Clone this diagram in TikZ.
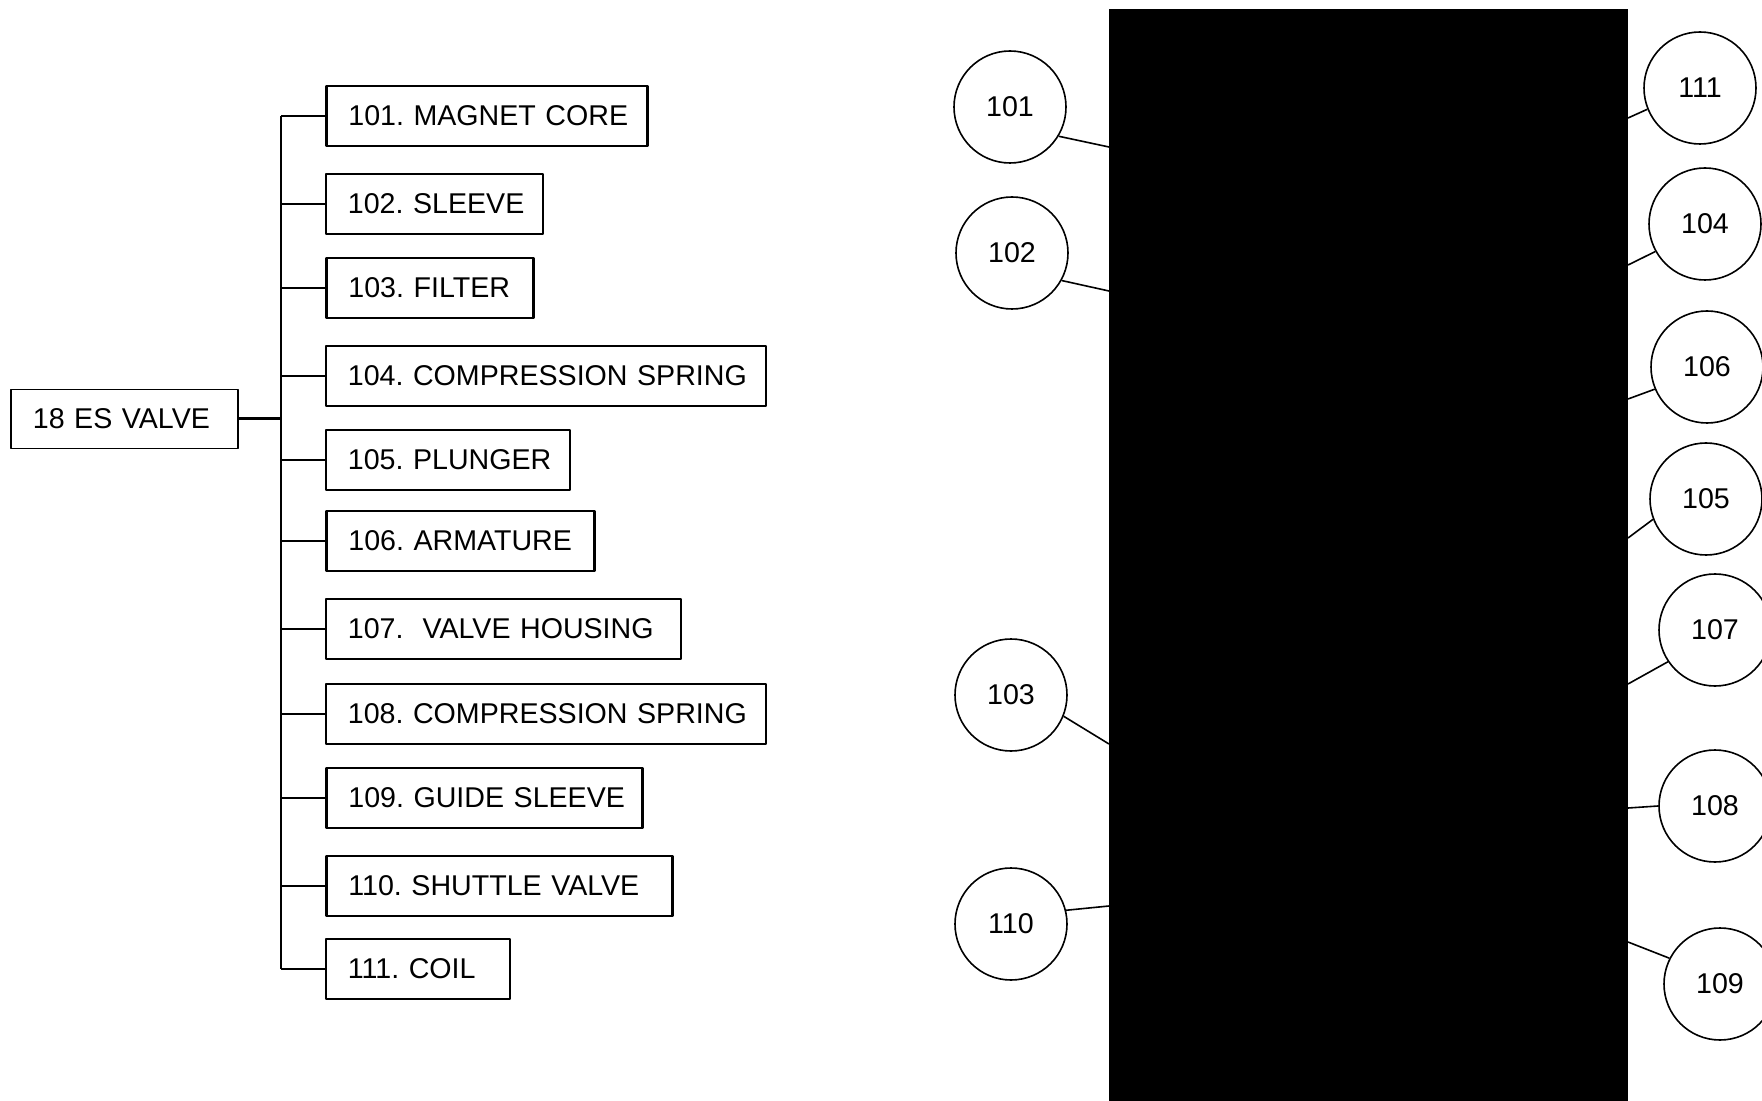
\documentclass[tikz,border=0pt]{standalone}
\usepackage{fontspec}
\setmainfont{Liberation Sans}
\frenchspacing
\begin{document}
\begin{tikzpicture}[x=0.5pt, y=-0.5pt, font=\fontsize{14.3}{17}\selectfont, line join=round,
	partbox/.style={draw, line width=0.9pt, minimum height=30pt, inner xsep=11pt, inner ysep=0pt, anchor=west, align=left},
	heavybox/.style={partbox, line width=1.4pt},
	callout/.style={draw, circle, line width=0.8pt, minimum size=56pt, inner sep=0pt},
	leader/.style={line width=0.8pt}]
	\useasboundingbox (0,0) rectangle (1762,1101);
	% parts list
	\node[partbox, text width=91.5pt, minimum height=29.5pt] (valve) at (10,419) {\mbox{18 ES VALVE}};
	\coordinate (trunk) at (281,0);
	\node[heavybox, text width=138.5pt] (b101) at (325,116) {\mbox{101. MAGNET CORE}};
	\node[partbox, text width=86.5pt] (b102) at (325,204) {\mbox{102. SLEEVE}};
	\node[heavybox, text width=81.5pt] (b103) at (325,288) {\mbox{103. FILTER}};
	\node[partbox, text width=198pt] (b104) at (325,376) {\mbox{104. COMPRESSION SPRING}};
	\node[partbox, text width=100pt] (b105) at (325,460) {\mbox{105. PLUNGER}};
	\node[heavybox, text width=112pt] (b106) at (325,541) {\mbox{106. ARMATURE}};
	\node[partbox, text width=155.5pt] (b107) at (325,629) {\mbox{107.\ \ VALVE HOUSING}};
	\node[partbox, text width=198pt] (b108) at (325,714) {\mbox{108. COMPRESSION SPRING}};
	\node[heavybox, text width=136pt] (b109) at (325,798) {\mbox{109. GUIDE SLEEVE}};
	\node[heavybox, text width=151pt] (b110) at (325,886) {\mbox{110. SHUTTLE VALVE}};
	\node[partbox, text width=70pt] (b111) at (325,969) {\mbox{111. COIL}};
	\draw[line width=1pt] (b101.west -| trunk) -- (b111.west -| trunk);
	\draw[line width=1.5pt] (valve.east) -- (valve.east -| trunk);
	\foreach \n in {101,102,103,104,105,106,107,108,109,110,111}
		\draw[line width=0.9pt] (b\n.west -| trunk) -- (b\n.west);
	% sectional view (blacked out)
	\fill (1109,9) rectangle (1628,1110);
	\node[callout] (c101) at (1010,107) {101};
	\node[callout] (c102) at (1012,253) {102};
	\node[callout] (c103) at (1011,695) {103};
	\node[callout] (c110) at (1011,924) {110};
	\node[callout] (c111) at (1700,88) {111};
	\node[callout] (c104) at (1705,224) {104};
	\node[callout] (c106) at (1707,367) {106};
	\node[callout] (c105) at (1706,499) {105};
	\node[callout] (c107) at (1715,630) {107};
	\node[callout] (c108) at (1715,806) {108};
	\node[callout] (c109) at (1720,984) {109};
	\coordinate (e101) at (1109,147);
	\coordinate (e102) at (1109,291);
	\coordinate (e103) at (1109,744);
	\coordinate (e110) at (1109,906);
	\coordinate (e111) at (1628,118);
	\coordinate (e104) at (1628,265);
	\coordinate (e106) at (1628,399);
	\coordinate (e105) at (1628,538);
	\coordinate (e107) at (1628,684);
	\coordinate (e108) at (1628,808);
	\coordinate (e109) at (1628,942);
	\draw[leader] (c101.-31) -- (e101);
	\draw[leader] (c102.-29) -- (e102);
	\draw[leader] (c103.-22) -- (e103);
	\draw[leader] (c110.14) -- (e110);
	\draw[leader] (c111.-158) -- (e111);
	\draw[leader] (c104.-151) -- (e104);
	\draw[leader] (c106.-157) -- (e106);
	\draw[leader] (c105.-159) -- (e105);
	\draw[leader] (c107.-146) -- (e107);
	\draw[leader] (c108.180) -- (e108);
	\draw[leader] (c109.153) -- (e109);
\end{tikzpicture}
\end{document}
